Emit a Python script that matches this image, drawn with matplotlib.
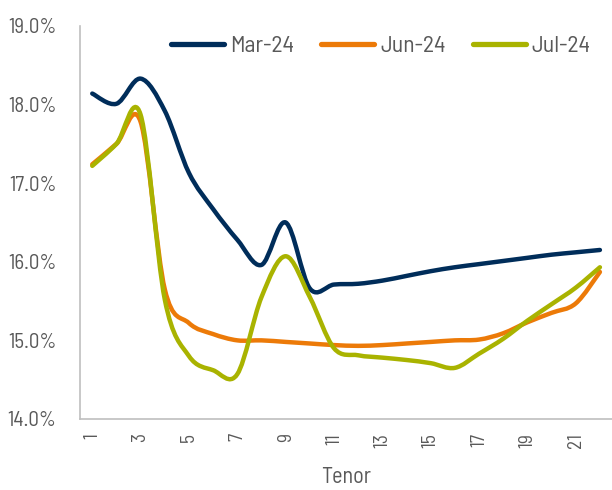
import numpy as np
import matplotlib
matplotlib.use("Agg")
import matplotlib.pyplot as plt
from matplotlib.path import Path
from matplotlib.patches import PathPatch
from matplotlib.lines import Line2D
from matplotlib.ticker import FuncFormatter

tenor = list(range(1, 23))
mar_24 = [18.14, 18.01, 18.33, 17.92, 17.13, 16.67, 16.28, 15.96, 16.50, 15.66,
          15.71, 15.72, 15.76, 15.82, 15.88, 15.93, 15.97, 16.01, 16.05, 16.09,
          16.12, 16.15]
jun_24 = [17.24, 17.50, 17.78, 15.65, 15.22, 15.08, 15.00, 15.00, 14.98, 14.96,
          14.94, 14.93, 14.94, 14.96, 14.98, 15.00, 15.01, 15.09, 15.23, 15.35,
          15.47, 15.87]
jul_24 = [17.22, 17.50, 17.87, 15.52, 14.80, 14.62, 14.57, 15.55, 16.07, 15.55,
          14.90, 14.81, 14.78, 14.75, 14.71, 14.65, 14.83, 15.02, 15.25, 15.46,
          15.67, 15.93]

series = [("Mar-24", mar_24, "#002D5A"),
          ("Jun-24", jun_24, "#EC7A08"),
          ("Jul-24", jul_24, "#A9B300")]

text_color = "#595959"
plt.rcParams["font.family"] = ["Barlow Semi Condensed", "DejaVu Sans"]


def smooth_path(x, y):
    # bezier segments like a spreadsheet "smoothed line"
    x = np.asarray(x, float)
    y = np.asarray(y, float)
    pts = np.column_stack([x, y])
    verts = [pts[0]]
    codes = [Path.MOVETO]
    n = len(pts)
    for i in range(n - 1):
        p0 = pts[i - 1] if i > 0 else pts[i]
        p1 = pts[i]
        p2 = pts[i + 1]
        p3 = pts[i + 2] if i + 2 < n else pts[i + 1]
        c1 = p1 + (p2 - p0) / 6.0
        c2 = p2 - (p3 - p1) / 6.0
        verts += [c1, c2, p2]
        codes += [Path.CURVE4] * 3
    return Path(verts, codes)


fig = plt.figure(figsize=(6.12, 4.9), dpi=100)
ax = fig.add_axes([0.131, 0.145, 0.869, 0.802])

handles = []
for name, vals, col in series:
    patch = PathPatch(smooth_path(tenor, vals), facecolor="none", edgecolor=col,
                      lw=3.2, capstyle="round", joinstyle="round")
    ax.add_patch(patch)
    handles.append(Line2D([], [], color=col, lw=3.8, solid_capstyle="round", label=name))

ax.set_xlim(0.5, 22.5)
ax.set_ylim(14, 19)
ax.set_yticks(np.arange(14, 19.1, 1))
ax.yaxis.set_major_formatter(FuncFormatter(lambda v, p: f"{v:.1f}%"))
ax.set_xticks(tenor[::2])

for s in ["top", "right"]:
    ax.spines[s].set_visible(False)
for s in ["left", "bottom"]:
    ax.spines[s].set_color("#BFBFBF")
    ax.spines[s].set_linewidth(1.2)

ax.tick_params(axis="y", length=0, pad=17, colors=text_color, labelsize=15)
ax.tick_params(axis="x", length=0, pad=10, colors=text_color, labelsize=14,
               labelrotation=90)

ax.set_xlabel("Tenor", fontsize=16, color=text_color, labelpad=14)

ax.legend(handles=handles, loc="upper right", ncol=3, frameon=False,
          bbox_to_anchor=(1.0, 1.03), handlelength=2.25, columnspacing=1.15,
          handletextpad=0.25, prop=dict(size=17), labelcolor=text_color)

fig.savefig("out.png", dpi=100)
